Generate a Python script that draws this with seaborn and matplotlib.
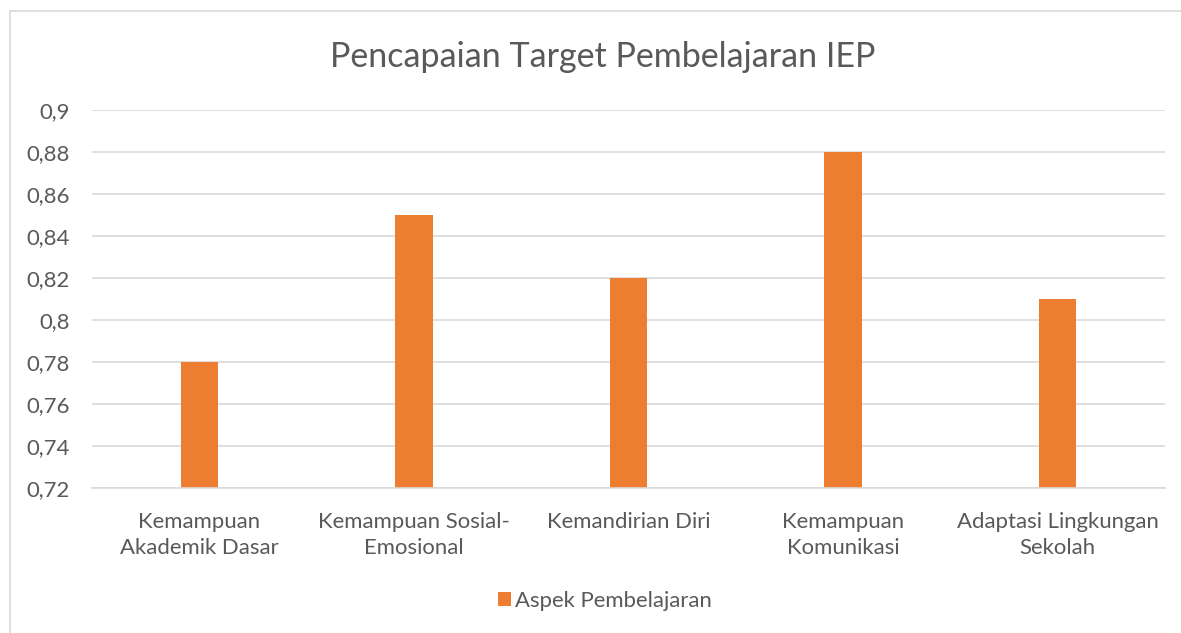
import matplotlib
matplotlib.use("Agg")
import matplotlib.pyplot as plt
import seaborn as sns
import pandas as pd
from matplotlib.ticker import FuncFormatter, MultipleLocator
from matplotlib.patches import Rectangle, Patch

categories = ["Kemampuan\nAkademik Dasar", "Kemampuan Sosial-\nEmosional", "Kemandirian Diri",
              "Kemampuan\nKomunikasi", "Adaptasi Lingkungan\nSekolah"]
values = [0.78, 0.85, 0.82, 0.88, 0.81]
series_name = "Aspek Pembelajaran"
title = "Pencapaian Target Pembelajaran IEP"

sns.set_theme(style="white")
plt.rcParams['font.family'] = ['Lato', 'DejaVu Sans']

W, H = 1181, 633
fig = plt.figure(figsize=(W/100, H/100), dpi=100)
ax = fig.add_axes([92/W, 1-488/H, (1165-92)/W, (488-110)/H])

df = pd.DataFrame({"cat": categories, "val": values})
bar_color = "#ED7D31"
sns.barplot(data=df, x="cat", y="val", color=bar_color, width=0.175, ax=ax, saturation=1, linewidth=0)

ax.set_ylim(0.72, 0.9)
ax.yaxis.set_major_locator(MultipleLocator(0.02))
ax.yaxis.set_major_formatter(FuncFormatter(lambda v, p: f"{v:.2f}".rstrip("0").rstrip(".").replace(".", ",")))
ax.grid(axis="y", color="#d9d9d9", linewidth=1.2)
ax.set_axisbelow(True)
for s in ["top", "right", "left"]:
    ax.spines[s].set_visible(False)
ax.spines["bottom"].set_color("#d9d9d9")
ax.spines["bottom"].set_linewidth(1.2)
ax.set_xlabel("")
ax.set_ylabel("")
ax.tick_params(axis="both", length=0, labelsize=15.9, colors="#595959")
ax.tick_params(axis="x", pad=17)
ax.tick_params(axis="y", pad=16)
for lbl in ax.get_xticklabels():
    lbl.set_linespacing(1.4)

fig.text(603/W, 1-57/H, title, ha="center", va="center", fontsize=24.5, color="#595959")

handles = [Patch(facecolor=bar_color, edgecolor="none", label=series_name)]
fig.legend(handles=handles, loc="center", bbox_to_anchor=(605/W, 1-601/H), frameon=False,
           fontsize=15.9, labelcolor="#595959", handlelength=0.6, handleheight=0.6, handletextpad=0.2)

fig.patches.append(Rectangle((10/W, -0.01), 1.02, 1-11/H+0.01, transform=fig.transFigure,
                             fill=False, edgecolor="#d9d9d9", linewidth=1.2))

fig.savefig("out.png", dpi=100)
